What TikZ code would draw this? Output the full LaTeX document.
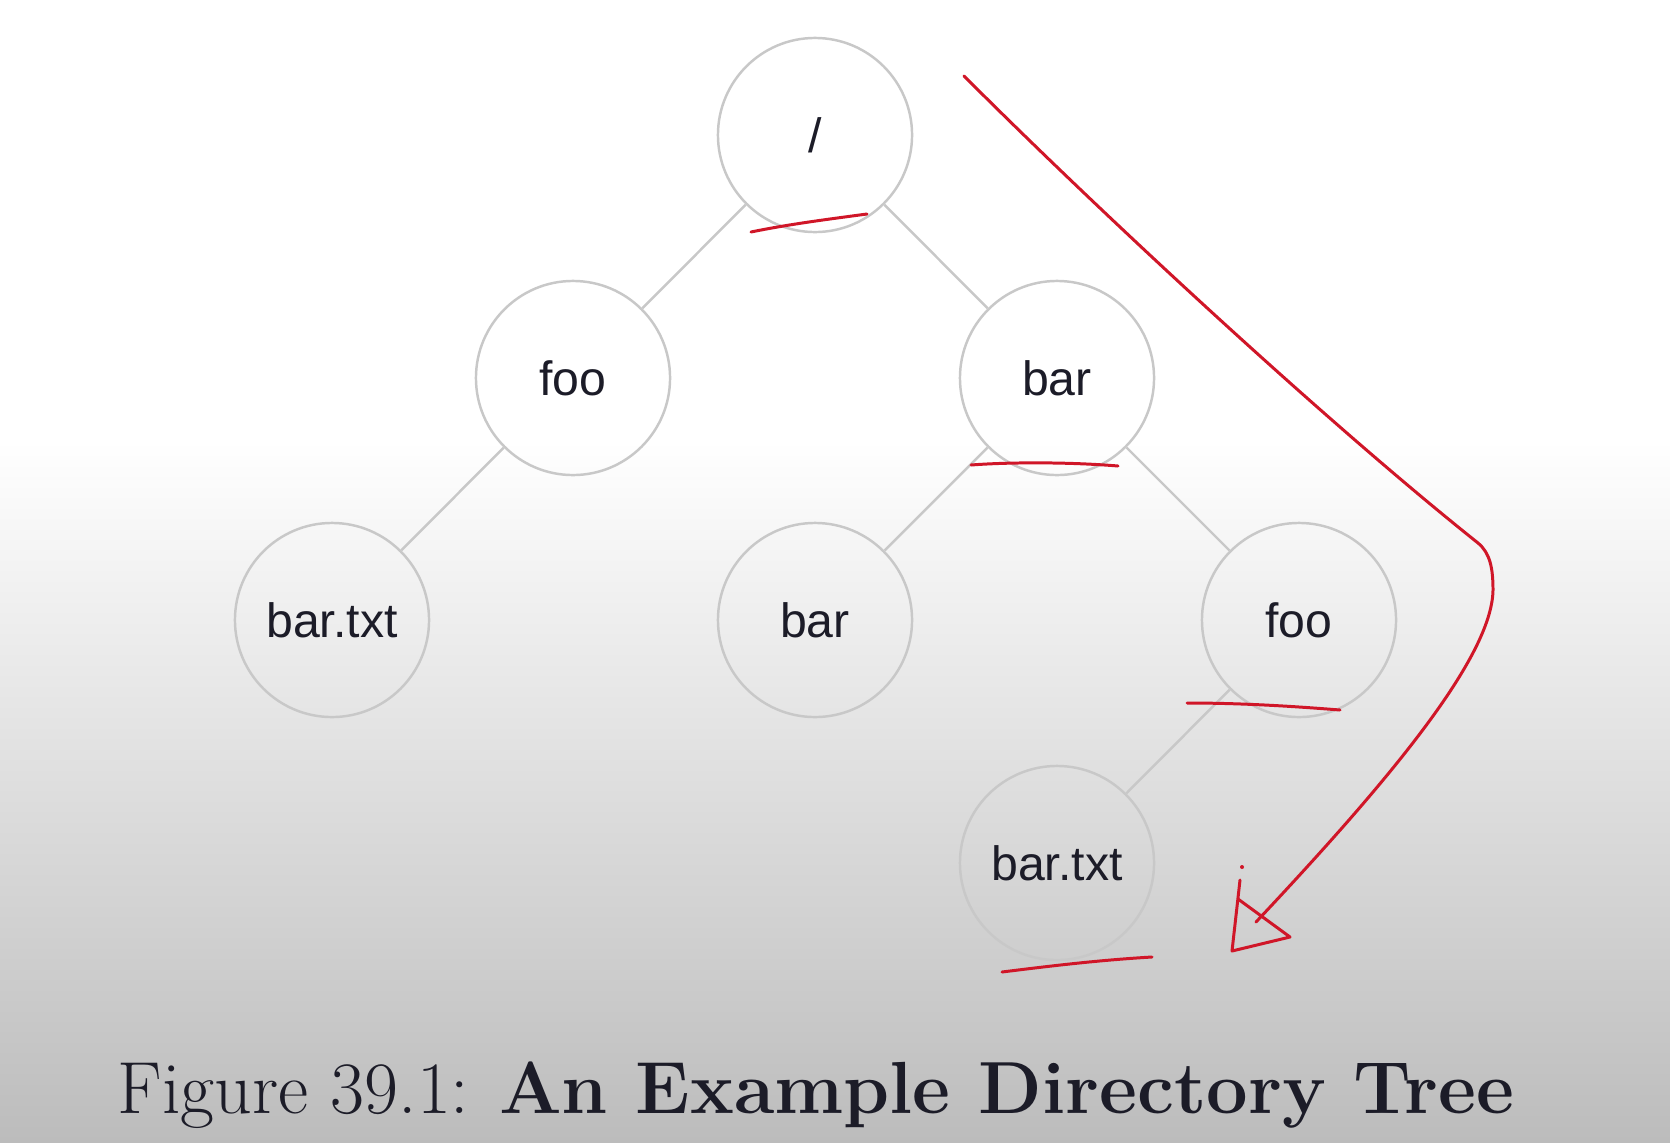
\documentclass[tikz,border=0pt]{standalone}
\usepackage{fontspec}
\setmainfont{Latin Modern Roman}
\newfontfamily\nodefont{Liberation Sans}
\definecolor{ringgray}{RGB}{200,200,200}
\definecolor{bggray}{RGB}{188,188,188}
\definecolor{penred}{RGB}{208,22,40}
\definecolor{inkdark}{RGB}{28,28,40}
\tikzset{
    dirnode/.style={circle,draw=ringgray,line width=0.7pt,minimum size=1.94cm,
        inner sep=0pt,text=inkdark,font=\nodefont\fontsize{13.7}{16}\selectfont},
    treeedge/.style={draw=ringgray,line width=0.7pt},
    penmark/.style={draw=penred,line width=0.85pt,line cap=round,line join=round}
}
\begin{document}
\begin{tikzpicture}[x=0.01cm,y=-0.01cm]
    \useasboundingbox (0,0) rectangle (1670,1142);
    % background
    \fill[white] (0,0) rectangle (1670,440);
    \shade[top color=white,bottom color=bggray] (0,440) rectangle (1670,1142);

    % tree
    \node[dirnode] (root) at (815,135) {/};
    \node[dirnode] (foo) at (573,378) {foo};
    \node[dirnode] (bar) at (1057,378) {bar};
    \node[dirnode] (footxt) at (332,620) {bar.txt};
    \node[dirnode] (barbar) at (815,620) {bar};
    \node[dirnode] (barfoo) at (1299,620) {foo};
    \node[dirnode] (bartxt) at (1057,863) {bar.txt};

    \draw[treeedge] (root) -- (foo);
    \draw[treeedge] (root) -- (bar);
    \draw[treeedge] (foo) -- (footxt);
    \draw[treeedge] (bar) -- (barbar);
    \draw[treeedge] (bar) -- (barfoo);
    \draw[treeedge] (barfoo) -- (bartxt);

    % red pen marks
    \draw[penmark] (751,232) .. controls (790,224) and (830,219) .. (867,214);
    \draw[penmark] (971,465) .. controls (1010,462) and (1070,462) .. (1118,466);
    \draw[penmark] (1187,703) .. controls (1240,703) and (1290,706) .. (1340,710);
    \draw[penmark] (1002,972) .. controls (1050,966) and (1100,960) .. (1152,957);

    \draw[penmark] (964,76) .. controls (1110,222) and (1330,425) .. (1478,543)
        .. controls (1490,553) and (1493,568) .. (1493,590)
        .. controls (1492,660) and (1380,790) .. (1256,922);
    \draw[penmark] (1240,880) -- (1232,951) -- (1290,937) -- (1238,899);
    \fill[penred] (1242,867) circle[radius=2];

    % caption
    \node[anchor=base,text=inkdark,font=\fontsize{21}{25}\selectfont] (caption) at (816,1113)
        {Figure 39.1: \textbf{An Example Directory Tree}};
\end{tikzpicture}
\end{document}
